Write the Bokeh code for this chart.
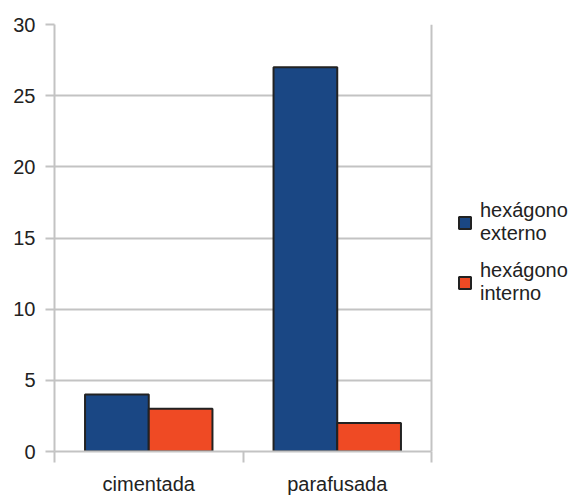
from bokeh.plotting import figure
from bokeh.models import (ColumnDataSource, FixedTicker, LinearAxis, Range1d,
                          Legend, LegendItem, Span, Grid)
from bokeh.transform import dodge
from bokeh.embed import file_html
from bokeh.resources import INLINE

categories = ["cimentada", "parafusada"]
externo = [4, 27]
interno = [3, 2]
series_labels = ["hexágono\nexterno", "hexágono\ninterno"]
y_ticks = [0, 5, 10, 15, 20, 25, 30]

BLUE = "#1a4784"
RED = "#ef4a24"
GRID = "#c3c3c3"
FONT = "Liberation Sans"

n = len(categories)
centers = [i + 0.5 for i in range(n)]
src = ColumnDataSource(dict(x=centers, ext=externo, intn=interno))

# frame spans the whole width so that the legend (drawn inside the frame) is not clipped;
# the bar area covers the first 377 of 523 frame pixels
x_end = n * 523 / 377

p = figure(width=577, height=497, output_backend="svg", toolbar_location=None,
           x_range=Range1d(0, x_end), y_range=Range1d(0, 30),
           x_axis_location=None, y_axis_location=None,
           min_border_left=54, min_border_top=24, min_border_right=0,
           min_border_bottom=42)
p.outline_line_color = None
p.xgrid.visible = False
p.ygrid.visible = False

ygrid = Grid(dimension=1, ticker=FixedTicker(ticks=y_ticks),
             grid_line_color=GRID, grid_line_width=2)
if "cross_bounds" in Grid.properties():
    ygrid.cross_bounds = (0, n)
    p.add_layout(ygrid)
else:
    p.segment(x0=0, x1=n, y0=y_ticks, y1=y_ticks, line_color=GRID, line_width=2)

p.add_layout(Span(location=n, dimension="height", line_color=GRID, line_width=2))

yaxis = LinearAxis(ticker=FixedTicker(ticks=y_ticks))
yaxis.axis_line_color = GRID
yaxis.axis_line_width = 2
yaxis.major_tick_line_color = GRID
yaxis.major_tick_line_width = 2
yaxis.major_tick_out = 9
yaxis.major_tick_in = 0
yaxis.minor_tick_line_color = None
yaxis.major_label_standoff = 10
yaxis.major_label_text_font = FONT
yaxis.major_label_text_font_size = "20px"
yaxis.major_label_text_color = "#222222"
p.add_layout(yaxis, "left")

xaxis = LinearAxis(ticker=FixedTicker(ticks=centers, minor_ticks=list(range(n + 1))),
                   bounds=(0, n))
xaxis.major_label_overrides = {c: name for c, name in zip(centers, categories)}
xaxis.axis_line_color = GRID
xaxis.axis_line_width = 2
xaxis.major_tick_line_color = None
xaxis.major_tick_out = 0
xaxis.major_tick_in = 0
xaxis.minor_tick_line_color = GRID
xaxis.minor_tick_line_width = 2
xaxis.minor_tick_out = 11
xaxis.minor_tick_in = 0
xaxis.major_label_standoff = 10
xaxis.major_label_text_font = FONT
xaxis.major_label_text_font_size = "20px"
xaxis.major_label_text_color = "#222222"
p.add_layout(xaxis, "below")

w = 0.338
r1 = p.vbar(x=dodge("x", -w / 2), top="ext", width=w, source=src,
            fill_color=BLUE, line_color="#222222", line_width=2)
r2 = p.vbar(x=dodge("x", w / 2), top="intn", width=w, source=src,
            fill_color=RED, line_color="#222222", line_width=2)

legend = Legend(items=[LegendItem(label=series_labels[0], renderers=[r1]),
                       LegendItem(label=series_labels[1], renderers=[r2])],
                location=(403, 146))
legend.border_line_color = None
legend.background_fill_alpha = 0
legend.padding = 0
legend.margin = 0
legend.glyph_width = 15
legend.glyph_height = 15
legend.label_standoff = 8
legend.spacing = 14
legend.label_text_font = FONT
legend.label_text_font_size = "20px"
legend.label_text_line_height = 1.1
legend.label_text_color = "#222222"
p.add_layout(legend, "center")

open("out.html", "w").write(file_html(p, INLINE))
